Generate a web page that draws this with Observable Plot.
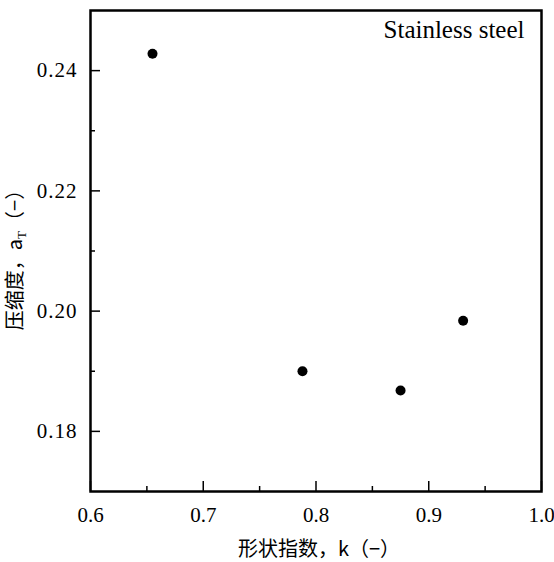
<!DOCTYPE html>
<html>
<head>
<meta charset="utf-8">
<script src="https://cdn.jsdelivr.net/npm/d3@7"></script>
<script src="https://cdn.jsdelivr.net/npm/@observablehq/plot@0.6"></script>
<style>
html,body{margin:0;padding:0;background:#fff;}
</style>
</head>
<body>
<div id="chart"></div>
<script>
// data
const shapeIndex = [0.655, 0.788, 0.875, 0.9305];
const compressibility = [0.2428, 0.1900, 0.1868, 0.1984];
const xTicks = [0.6, 0.7, 0.8, 0.9, 1.0];
const xMinor = [0.65, 0.75, 0.85, 0.95];
const yTicks = [0.18, 0.20, 0.22, 0.24];
const yMinor = [0.19, 0.21, 0.23];
const xLabel = "形状指数，k（−）";
const yLabel = "压缩度，a";
const ySub = "T";
const yLabelTail = "（−）";
const note = "Stainless steel";

const points = shapeIndex.map((k, i) => ({k, a: compressibility[i]}));
const numFont = "'Liberation Serif', 'DejaVu Serif', serif";
const cjkFont = "'Noto Sans CJK SC', sans-serif";

const W = 554, H = 562, mL = 90, mR = 13, mT = 10, mB = 71;
const innerW = W - mL - mR, innerH = H - mT - mB;
const majorLen = 10, minorLen = 5;

const chart = Plot.plot({
  width: W,
  height: H,
  marginLeft: mL,
  marginRight: mR,
  marginTop: mT,
  marginBottom: mB,
  style: {background: "#fff", color: "#000"},
  x: {domain: [0.6, 1.0], axis: null},
  y: {domain: [0.17, 0.25], axis: null},
  marks: [
    Plot.frame({stroke: "#000", strokeWidth: 2.5}),
    // inward ticks
    Plot.tickX(xTicks, {x: d => d, insetTop: innerH - majorLen, stroke: "#000", strokeWidth: 1.5}),
    Plot.tickX(xMinor, {x: d => d, insetTop: innerH - minorLen, stroke: "#000", strokeWidth: 1.5}),
    Plot.tickY(yTicks, {y: d => d, insetRight: innerW - majorLen, stroke: "#000", strokeWidth: 1.5}),
    Plot.tickY(yMinor, {y: d => d, insetRight: innerW - minorLen, stroke: "#000", strokeWidth: 1.5}),
    // tick labels
    Plot.text(xTicks, {x: d => d, frameAnchor: "bottom", lineAnchor: "top", dy: 16, text: d3.format(".1f"),
      fontSize: 21, fontFamily: numFont, fill: "#000", className: "num"}),
    Plot.text(yTicks, {y: d => d, frameAnchor: "left", textAnchor: "end", dx: -13, text: d3.format(".2f"),
      fontSize: 21, fontFamily: numFont, fill: "#000", className: "num ynum"}),
    Plot.dot(points, {x: "k", y: "a", r: 5, fill: "#000", stroke: "none"}),
    Plot.text([note], {frameAnchor: "top-right", dx: -17, dy: 10, fontSize: 25, fill: "#000", fontFamily: numFont, textAnchor: "end", className: "num"}),
    Plot.text([xLabel], {frameAnchor: "bottom", dy: 58, dx: 3, lineAnchor: "middle", fontSize: 20, fill: "#000", fontFamily: cjkFont, className: "xlab"}),
    Plot.text([yLabel], {frameAnchor: "left", dx: -75, dy: 4, rotate: -90, textAnchor: "middle", fontSize: 20, fill: "#000", fontFamily: cjkFont, className: "ylab"})
  ]
});
document.getElementById("chart").appendChild(chart);

// make sure serif is used for numerals and the note
chart.querySelectorAll("g.num text").forEach(t => { t.style.fontFamily = numFont; });
chart.querySelectorAll("g.ynum text").forEach(t => { t.style.letterSpacing = "1px"; });

// subscript for y label
const yl = d3.select(chart).select("g.ylab text");
if (!yl.empty()) {
  yl.text(null);
  yl.append("tspan").text(yLabel);
  yl.append("tspan").text(ySub).attr("font-size", 13).attr("dy", 4).attr("font-family", numFont);
  yl.append("tspan").text(yLabelTail).attr("dy", -4);
}
</script>
</body>
</html>
